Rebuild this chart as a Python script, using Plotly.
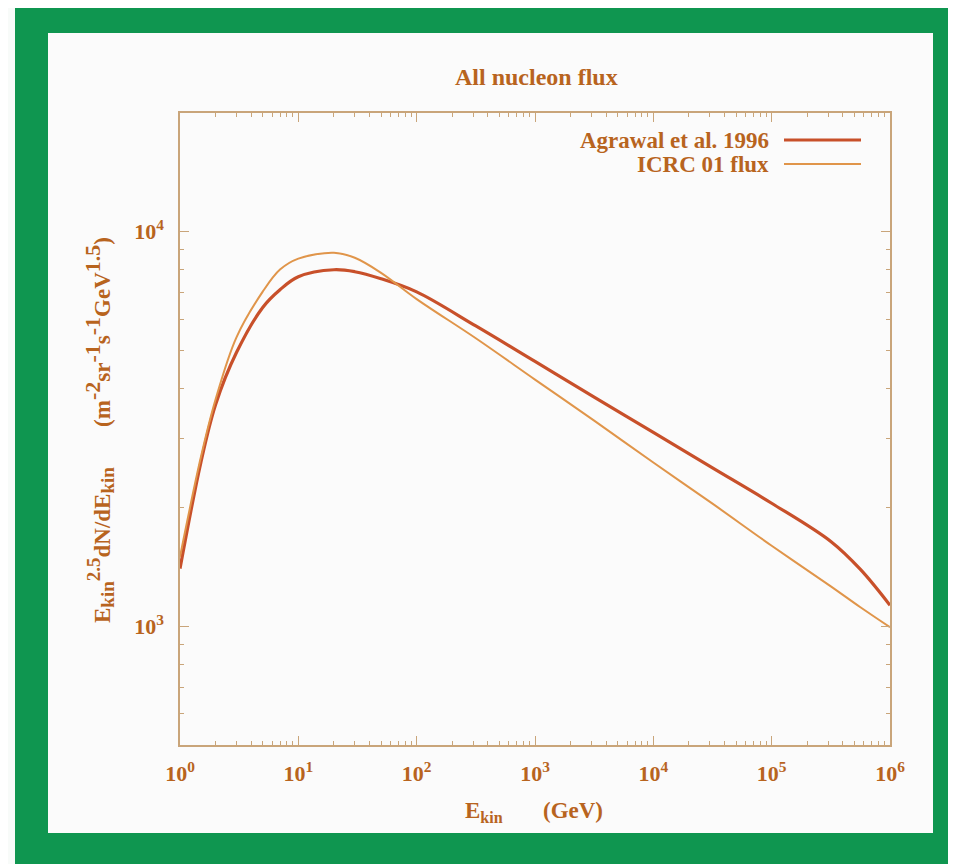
import plotly.graph_objects as go

# ---------------- data ----------------
energy_gev = [1, 1.5, 2, 3, 5, 7, 10, 20, 30, 50, 100, 316, 1000, 3162,
              1e4, 31623, 1e5, 316228, 562341, 1e6]
agrawal_1996 = [1400, 2600, 3650, 4940, 6430, 7130, 7690, 8010, 7920, 7600,
                7040, 5770, 4690, 3810, 3100, 2520, 2050, 1640, 1393, 1130]
icrc_01 = [1500, 2680, 3760, 5400, 7050, 8020, 8550, 8850, 8590, 7870,
           6750, 5370, 4220, 3320, 2600, 2045, 1600, 1262, 1117, 994]

x_tickvals = [1, 10, 100, 1e3, 1e4, 1e5, 1e6]
x_ticktext = ["10<sup>0</sup>", "10<sup>1</sup>", "10<sup>2</sup>", "10<sup>3</sup>",
              "10<sup>4</sup>", "10<sup>5</sup>", "10<sup>6</sup>"]
x_minor = [m * 10 ** d for d in range(0, 6) for m in range(2, 10)]
y_tickvals = [1e3, 1e4]
y_ticktext = ["10<sup>3</sup>", "10<sup>4</sup>"]
y_minor = [600, 700, 800, 900] + [m * 1000 for m in range(2, 10)] + [20000]

series_names = ["Agrawal et al. 1996", "ICRC 01 flux"]
title_text = "All nucleon flux"
x_title = "E<sub>kin</sub>       (GeV)"


def small(s, size=19):
    return "<span style='font-size:%dpx'>%s</span>" % (size, s)


y_title = ("E<sub>" + small("kin") + "</sub><sup>" + small("2.5") + "</sup>dN/dE<sub>"
           + small("kin") + "</sub>       (m<sup>" + small("-2", 22) + "</sup>sr<sup>"
           + small("-1", 22) + "</sup>s<sup>" + small("-1", 22) + "</sup>GeV<sup>"
           + small("1.5", 22) + "</sup>)")

# ---------------- styling ----------------
OFF = 8                      # page body margin
W, H = 956 - OFF, 864 - OFF
L, R, T, B = 180 - OFF, 890 - OFF, 113 - OFF, 745 - OFF   # plot area (figure px)
TXT = "#b8641e"
FRAME = "#c9a57a"
GREEN = "#0f9650"
C_AGR = "#c8502a"
C_ICRC = "#e0954a"
SERIF = "Liberation Serif"


def px(x):           # reference-screen x -> paper
    return (x - OFF - L) / (R - L)


def py(y):           # reference-screen y -> paper
    return (B - (y - OFF)) / (B - T)


fig = go.Figure()
fig.add_trace(go.Scatter(x=energy_gev, y=agrawal_1996, name=series_names[0],
                         mode="lines", line=dict(color=C_AGR, width=3.2, shape="spline"),
                         showlegend=False))
fig.add_trace(go.Scatter(x=energy_gev, y=icrc_01, name=series_names[1],
                         mode="lines", line=dict(color=C_ICRC, width=2, shape="spline"),
                         showlegend=False))

shapes = [
    dict(type="rect", xref="paper", yref="paper", x0=px(15), x1=px(970),
         y0=py(880), y1=py(7), fillcolor=GREEN, line=dict(width=0), layer="below"),
    dict(type="rect", xref="paper", yref="paper", x0=px(48), x1=px(933),
         y0=py(833), y1=py(33), fillcolor="#fbfbfb", line=dict(width=0), layer="below"),
    dict(type="line", xref="paper", yref="paper", x0=px(784), x1=px(861),
         y0=py(140), y1=py(140), line=dict(color=C_AGR, width=3.2)),
    dict(type="line", xref="paper", yref="paper", x0=px(784), x1=px(861),
         y0=py(164), y1=py(164), line=dict(color=C_ICRC, width=2)),
]

annotations = [
    dict(text=title_text, x=px(536), y=py(77), xref="paper", yref="paper",
         showarrow=False, xanchor="center", yanchor="middle",
         font=dict(family=SERIF, size=24, color=TXT, weight="bold")),
    dict(text=series_names[0], x=px(771), y=py(140), xref="paper", yref="paper",
         showarrow=False, xanchor="right", yanchor="middle",
         font=dict(family=SERIF, size=23, color=TXT, weight="bold")),
    dict(text=series_names[1], x=px(771), y=py(164), xref="paper", yref="paper",
         showarrow=False, xanchor="right", yanchor="middle",
         font=dict(family=SERIF, size=23, color=TXT, weight="bold")),
    dict(text=x_title, x=px(534), y=py(812), xref="paper", yref="paper",
         showarrow=False, xanchor="center", yanchor="middle",
         font=dict(family=SERIF, size=23, color=TXT, weight="bold")),
    dict(text=y_title, x=px(99), y=py(430), xref="paper", yref="paper",
         showarrow=False, xanchor="center", yanchor="middle", textangle=-90,
         font=dict(family=SERIF, size=23, color=TXT, weight="bold")),
]

axis_common = dict(
    showgrid=False, zeroline=False, showline=True, linecolor=FRAME, linewidth=1.5,
    mirror="allticks", ticks="inside", ticklen=9, tickcolor=FRAME, tickwidth=1.2,
    tickfont=dict(family=SERIF, size=22, color=TXT, weight="bold"),
)

fig.update_layout(
    width=W, height=H,
    margin=dict(l=L, r=W - R, t=T, b=H - B, pad=0),
    paper_bgcolor="#f8fbf9",
    plot_bgcolor="rgba(0,0,0,0)",
    shapes=shapes,
    annotations=annotations,
    xaxis=dict(type="log", range=[0, 6], tickmode="array", tickvals=x_tickvals,
               ticktext=x_ticktext, ticklabelstandoff=8,
               minor=dict(tickmode="array", tickvals=x_minor, ticks="inside", ticklen=4,
                          tickcolor=FRAME, tickwidth=1, showgrid=False),
               **axis_common),
    yaxis=dict(type="log", range=[2.699, 4.301], tickmode="array", tickvals=y_tickvals,
               ticktext=y_ticktext, ticklabelstandoff=10,
               minor=dict(tickmode="array", tickvals=y_minor, ticks="inside", ticklen=4,
                          tickcolor=FRAME, tickwidth=1, showgrid=False),
               **axis_common),
)

fig.write_html("out.html")
